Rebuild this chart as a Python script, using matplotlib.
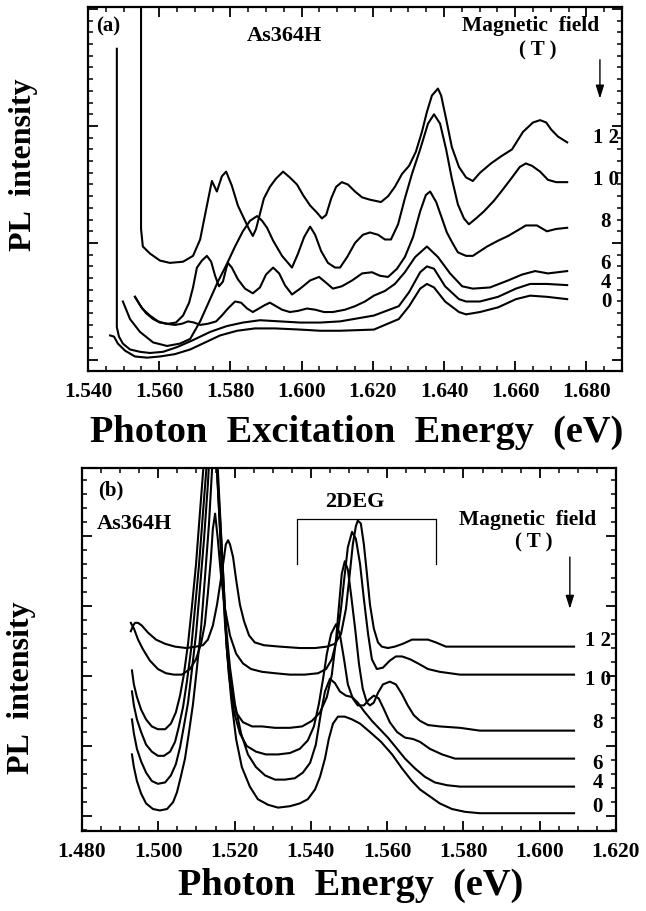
## 0.1
import numpy as np
import matplotlib
matplotlib.use('Agg')
import matplotlib.pyplot as plt
from matplotlib.ticker import MultipleLocator

## 0.2 basic settings
plt.rcParams['font.family'] = ['Liberation Serif', 'DejaVu Serif']
plt.rcParams['font.weight'] = 'bold'
lw_curve, lw_axis = 1.5, 1.6
fields = ['1 2', '1 0', '8', '6', '4', '0']

## 0.3 panel (a) data : photon excitation energy (eV) / PL intensity (arb.)
a_e12 = [1.5549, 1.5549, 1.5554, 1.5574, 1.5602, 1.5630, 1.5667, 1.5695, 1.5715, 1.5734, 1.5748, 1.5762, 1.5776, 1.5788, 1.5804, 1.5821, 1.5838, 1.5852, 1.5863, 1.5872, 1.5883, 1.5894, 1.5911, 1.5928, 1.5948, 1.5967, 1.5987, 1.6004, 1.6024, 1.6043, 1.6057, 1.6069, 1.6083, 1.6097, 1.6113, 1.6130, 1.6150, 1.6170, 1.6192, 1.6223, 1.6243, 1.6262, 1.6282, 1.6302, 1.6321, 1.6338, 1.6352, 1.6366, 1.6383, 1.6392, 1.6406, 1.6422, 1.6442, 1.6462, 1.6481, 1.6501, 1.6532, 1.6560, 1.6591, 1.6622, 1.6650, 1.6670, 1.6687, 1.6701, 1.6720, 1.6746]
a_i12 = [31.0, 11.2, 9.7, 9.1, 8.5, 8.3, 8.4, 8.9, 10.3, 13.2, 15.3, 14.4, 15.7, 16.1, 14.9, 13.2, 12.1, 11.2, 10.6, 11.2, 12.5, 13.8, 14.8, 15.5, 16.1, 15.6, 15.0, 14.1, 13.2, 12.6, 12.1, 12.4, 13.8, 14.8, 15.2, 15.0, 14.4, 13.9, 13.7, 13.5, 14.0, 14.8, 15.9, 16.6, 17.8, 19.5, 21.2, 22.6, 23.2, 22.6, 20.6, 18.2, 16.5, 15.6, 15.3, 16.0, 16.8, 17.4, 18.0, 19.5, 20.3, 20.5, 20.3, 19.7, 19.1, 18.6]

a_e10 = [1.5498, 1.5518, 1.5546, 1.5583, 1.5622, 1.5658, 1.5687, 1.5715, 1.5743, 1.5765, 1.5790, 1.5813, 1.5835, 1.5855, 1.5875, 1.5889, 1.5903, 1.5920, 1.5945, 1.5973, 1.5990, 1.6007, 1.6024, 1.6038, 1.6055, 1.6074, 1.6094, 1.6108, 1.6128, 1.6150, 1.6172, 1.6192, 1.6215, 1.6234, 1.6251, 1.6271, 1.6290, 1.6310, 1.6333, 1.6355, 1.6372, 1.6389, 1.6406, 1.6422, 1.6439, 1.6456, 1.6470, 1.6490, 1.6512, 1.6540, 1.6566, 1.6591, 1.6613, 1.6630, 1.6647, 1.6670, 1.6692, 1.6715, 1.6746]
a_i10 = [5.0, 3.5, 2.4, 1.5, 1.2, 1.4, 1.8, 3.3, 5.2, 6.7, 8.2, 9.7, 11.0, 11.9, 12.3, 11.9, 11.3, 10.2, 8.9, 7.9, 9.1, 10.5, 11.4, 10.7, 9.3, 8.3, 7.9, 7.9, 8.8, 10.0, 10.7, 10.9, 10.7, 10.3, 10.3, 11.6, 13.8, 15.9, 18.0, 20.2, 21.0, 20.2, 18.0, 15.5, 13.3, 12.1, 11.6, 12.1, 12.7, 13.6, 14.6, 15.6, 16.5, 16.8, 16.6, 16.1, 15.4, 15.2, 15.2]

a_e8 = [1.5532, 1.5546, 1.5563, 1.5583, 1.5602, 1.5625, 1.5647, 1.5667, 1.5684, 1.5695, 1.5706, 1.5720, 1.5734, 1.5746, 1.5757, 1.5768, 1.5779, 1.5788, 1.5793, 1.5804, 1.5821, 1.5841, 1.5863, 1.5883, 1.5900, 1.5920, 1.5937, 1.5953, 1.5973, 1.5996, 1.6024, 1.6049, 1.6069, 1.6088, 1.6113, 1.6142, 1.6170, 1.6198, 1.6220, 1.6243, 1.6268, 1.6290, 1.6313, 1.6333, 1.6349, 1.6361, 1.6378, 1.6392, 1.6408, 1.6422, 1.6439, 1.6462, 1.6481, 1.6501, 1.6521, 1.6552, 1.6580, 1.6608, 1.6630, 1.6661, 1.6689, 1.6715, 1.6746]
a_i8 = [5.4, 4.7, 4.0, 3.5, 3.2, 3.1, 3.2, 3.8, 4.9, 6.2, 7.9, 8.5, 8.9, 8.4, 7.2, 6.3, 6.7, 7.8, 8.3, 7.9, 6.9, 6.1, 5.7, 6.2, 7.3, 7.9, 7.4, 6.4, 5.6, 6.1, 6.8, 7.1, 6.6, 6.1, 6.3, 6.8, 7.4, 7.5, 7.2, 7.1, 7.8, 8.8, 10.5, 12.7, 14.1, 14.4, 13.5, 12.3, 10.9, 10.1, 9.2, 8.9, 8.9, 9.3, 9.7, 10.2, 10.6, 11.1, 11.5, 11.5, 11.0, 11.2, 11.3]

a_e6 = [1.5532, 1.5552, 1.5574, 1.5597, 1.5619, 1.5644, 1.5664, 1.5681, 1.5698, 1.5715, 1.5737, 1.5760, 1.5776, 1.5793, 1.5813, 1.5830, 1.5847, 1.5863, 1.5880, 1.5897, 1.5911, 1.5928, 1.5945, 1.5967, 1.5990, 1.6015, 1.6038, 1.6063, 1.6088, 1.6122, 1.6150, 1.6178, 1.6203, 1.6234, 1.6262, 1.6290, 1.6319, 1.6352, 1.6383, 1.6417, 1.6451, 1.6481, 1.6529, 1.6580, 1.6619, 1.6656, 1.6692, 1.6746]
a_i6 = [5.4, 4.4, 3.8, 3.3, 3.1, 3.0, 3.1, 3.3, 3.2, 3.0, 3.1, 3.3, 3.8, 4.4, 5.0, 4.9, 4.4, 4.1, 4.4, 4.7, 4.9, 4.6, 4.3, 4.1, 4.2, 4.4, 4.3, 4.1, 4.1, 4.3, 4.6, 5.0, 5.5, 5.9, 6.5, 7.5, 8.8, 9.7, 8.8, 7.4, 6.3, 6.1, 6.2, 6.8, 7.3, 7.6, 7.4, 7.6]

a_e4 = [1.5481, 1.5481, 1.5487, 1.5498, 1.5518, 1.5546, 1.5574, 1.5611, 1.5650, 1.5695, 1.5743, 1.5790, 1.5835, 1.5883, 1.5939, 1.5996, 1.6052, 1.6108, 1.6203, 1.6273, 1.6302, 1.6333, 1.6352, 1.6372, 1.6403, 1.6442, 1.6462, 1.6501, 1.6552, 1.6602, 1.6642, 1.6689, 1.6746]
a_i4 = [26.6, 2.8, 2.0, 1.4, 0.9, 0.7, 0.6, 0.7, 1.1, 1.7, 2.4, 2.9, 3.2, 3.4, 3.3, 3.2, 3.2, 3.3, 3.8, 4.6, 5.8, 7.5, 8.0, 7.8, 6.3, 5.2, 5.0, 5.0, 5.4, 6.1, 6.5, 6.5, 6.4]

a_e0 = [1.5462, 1.5473, 1.5484, 1.5504, 1.5532, 1.5566, 1.5602, 1.5644, 1.5687, 1.5729, 1.5771, 1.5819, 1.5869, 1.5925, 1.5996, 1.6052, 1.6108, 1.6203, 1.6273, 1.6302, 1.6333, 1.6352, 1.6372, 1.6403, 1.6442, 1.6462, 1.6501, 1.6552, 1.6602, 1.6642, 1.6689, 1.6746]
a_i0 = [2.1, 2.0, 1.4, 0.8, 0.3, 0.2, 0.3, 0.5, 0.9, 1.5, 2.1, 2.5, 2.7, 2.7, 2.6, 2.5, 2.5, 2.6, 3.5, 4.6, 6.1, 6.5, 6.2, 5.0, 4.1, 3.9, 4.1, 4.5, 5.2, 5.5, 5.4, 5.2]

## 0.4 panel (b) data : photon energy (eV) / PL intensity (arb.)
b_e12 = [1.4928, 1.4934, 1.4939, 1.4947, 1.4957, 1.4973, 1.4994, 1.5018, 1.5044, 1.5073, 1.5099, 1.5117, 1.5130, 1.5143, 1.5154, 1.5164, 1.5172, 1.5177, 1.5183, 1.5188, 1.5196, 1.5204, 1.5214, 1.5225, 1.5238, 1.5253, 1.5277, 1.5319, 1.5371, 1.5411, 1.5442, 1.5463, 1.5479, 1.5492, 1.5502, 1.5510, 1.5518, 1.5523, 1.5531, 1.5539, 1.5547, 1.5555, 1.5565, 1.5576, 1.5586, 1.5602, 1.5620, 1.5641, 1.5665, 1.5686, 1.5707, 1.5728, 1.5754, 1.5791, 1.6090]
b_i12 = [13.2, 13.6, 13.8, 13.8, 13.6, 13.1, 12.6, 12.3, 12.1, 12.0, 12.1, 12.2, 12.6, 13.6, 15.1, 16.9, 18.4, 19.4, 19.7, 19.4, 18.5, 16.9, 15.1, 13.9, 12.9, 12.4, 12.2, 12.1, 12.0, 12.0, 12.1, 12.3, 13.0, 14.8, 17.3, 19.4, 20.7, 21.1, 20.9, 19.4, 17.3, 15.1, 13.4, 12.4, 12.1, 12.0, 12.1, 12.3, 12.6, 12.6, 12.6, 12.4, 12.1, 12.1, 12.1]

b_e10 = [1.4928, 1.4936, 1.4947, 1.4960, 1.4978, 1.4999, 1.5020, 1.5041, 1.5062, 1.5083, 1.5099, 1.5112, 1.5122, 1.5130, 1.5138, 1.5143, 1.5149, 1.5156, 1.5164, 1.5175, 1.5188, 1.5204, 1.5222, 1.5243, 1.5272, 1.5306, 1.5345, 1.5384, 1.5419, 1.5440, 1.5455, 1.5468, 1.5479, 1.5489, 1.5497, 1.5508, 1.5518, 1.5529, 1.5539, 1.5550, 1.5560, 1.5573, 1.5589, 1.5607, 1.5623, 1.5639, 1.5660, 1.5681, 1.5707, 1.5738, 1.5791, 1.6090]
b_i10 = [13.8, 13.4, 12.6, 11.9, 11.1, 10.5, 10.2, 10.1, 10.1, 10.5, 11.2, 12.3, 13.7, 15.9, 18.4, 20.5, 21.6, 19.8, 17.3, 14.8, 12.9, 11.6, 10.9, 10.5, 10.3, 10.2, 10.1, 10.1, 10.2, 10.5, 11.2, 12.6, 14.8, 17.3, 19.2, 20.3, 19.8, 18.0, 15.5, 13.0, 11.2, 10.5, 10.6, 11.1, 11.4, 11.4, 11.2, 10.9, 10.5, 10.3, 10.1, 10.1]

b_e8 = [1.4931, 1.4936, 1.4944, 1.4955, 1.4968, 1.4983, 1.4999, 1.5018, 1.5033, 1.5046, 1.5057, 1.5067, 1.5078, 1.5088, 1.5099, 1.5109, 1.5120, 1.5138, 1.5149, 1.5156, 1.5164, 1.5172, 1.5180, 1.5191, 1.5204, 1.5222, 1.5246, 1.5272, 1.5306, 1.5345, 1.5377, 1.5403, 1.5424, 1.5442, 1.5455, 1.5466, 1.5474, 1.5481, 1.5489, 1.5497, 1.5505, 1.5516, 1.5526, 1.5536, 1.5547, 1.5555, 1.5565, 1.5576, 1.5589, 1.5607, 1.5623, 1.5639, 1.5654, 1.5670, 1.5686, 1.5707, 1.5738, 1.5791, 1.5843, 1.6090]
b_i8 = [10.4, 9.4, 8.5, 7.6, 6.9, 6.4, 6.2, 6.2, 6.6, 7.4, 8.6, 10.1, 12.3, 14.9, 18.0, 21.6, 25.5, 30.0, 27.6, 23.7, 19.4, 15.5, 11.9, 9.1, 7.4, 6.7, 6.4, 6.4, 6.3, 6.3, 6.4, 6.8, 7.4, 8.5, 10.1, 12.6, 15.1, 17.3, 18.2, 17.6, 15.9, 13.4, 10.9, 9.1, 8.1, 7.9, 8.1, 8.8, 9.4, 9.6, 9.4, 8.7, 7.9, 7.2, 6.8, 6.5, 6.4, 6.3, 6.1, 6.1]

b_e6 = [1.4931, 1.4936, 1.4944, 1.4955, 1.4968, 1.4983, 1.4999, 1.5015, 1.5031, 1.5044, 1.5054, 1.5065, 1.5075, 1.5086, 1.5096, 1.5107, 1.5117, 1.5128, 1.5141, 1.5151, 1.5159, 1.5167, 1.5175, 1.5185, 1.5198, 1.5214, 1.5232, 1.5256, 1.5282, 1.5314, 1.5345, 1.5371, 1.5392, 1.5408, 1.5421, 1.5432, 1.5442, 1.5453, 1.5466, 1.5476, 1.5487, 1.5497, 1.5510, 1.5523, 1.5539, 1.5552, 1.5565, 1.5578, 1.5592, 1.5607, 1.5626, 1.5647, 1.5668, 1.5686, 1.5712, 1.5744, 1.5778, 1.5817, 1.6090]
b_i6 = [8.9, 7.9, 6.9, 6.0, 5.1, 4.6, 4.3, 4.3, 4.6, 5.3, 6.4, 7.8, 9.6, 11.9, 14.8, 18.0, 21.6, 25.5, 30.0, 26.2, 21.9, 17.6, 13.7, 10.1, 7.5, 5.9, 5.0, 4.6, 4.4, 4.4, 4.5, 4.8, 5.4, 6.4, 8.0, 9.8, 11.6, 13.0, 13.7, 13.0, 11.2, 9.4, 8.4, 7.9, 7.9, 8.3, 8.6, 8.4, 7.6, 6.7, 6.0, 5.6, 5.5, 5.3, 4.8, 4.4, 4.1, 4.1, 4.1]

b_e4 = [1.4931, 1.4936, 1.4944, 1.4955, 1.4968, 1.4983, 1.4999, 1.5018, 1.5033, 1.5046, 1.5057, 1.5067, 1.5078, 1.5088, 1.5099, 1.5109, 1.5120, 1.5130, 1.5143, 1.5154, 1.5162, 1.5170, 1.5177, 1.5188, 1.5201, 1.5217, 1.5235, 1.5256, 1.5280, 1.5306, 1.5332, 1.5358, 1.5379, 1.5398, 1.5413, 1.5426, 1.5437, 1.5450, 1.5463, 1.5476, 1.5492, 1.5508, 1.5523, 1.5539, 1.5560, 1.5581, 1.5602, 1.5623, 1.5647, 1.5673, 1.5699, 1.5725, 1.5757, 1.5791, 1.6090]
b_i4 = [6.9, 5.9, 4.8, 3.9, 3.1, 2.5, 2.3, 2.4, 2.9, 3.7, 4.9, 6.4, 8.1, 10.4, 13.0, 16.2, 19.8, 23.7, 30.0, 24.8, 21.2, 17.3, 13.7, 10.6, 8.0, 5.9, 4.4, 3.5, 2.9, 2.6, 2.6, 2.7, 3.1, 3.8, 5.1, 7.3, 8.9, 9.8, 9.5, 8.9, 8.6, 8.5, 8.1, 7.5, 6.8, 6.2, 5.6, 4.9, 4.1, 3.4, 2.8, 2.4, 2.2, 2.1, 2.1]

b_e0 = [1.4931, 1.4936, 1.4944, 1.4955, 1.4968, 1.4986, 1.5004, 1.5023, 1.5039, 1.5049, 1.5059, 1.5070, 1.5080, 1.5091, 1.5101, 1.5112, 1.5122, 1.5133, 1.5141, 1.5149, 1.5156, 1.5164, 1.5172, 1.5180, 1.5191, 1.5204, 1.5219, 1.5240, 1.5261, 1.5288, 1.5314, 1.5345, 1.5371, 1.5392, 1.5411, 1.5424, 1.5437, 1.5447, 1.5458, 1.5471, 1.5489, 1.5508, 1.5529, 1.5555, 1.5584, 1.5613, 1.5639, 1.5665, 1.5686, 1.5712, 1.5738, 1.5770, 1.5804, 1.5843, 1.6090]
b_i0 = [4.4, 3.5, 2.5, 1.6, 0.9, 0.5, 0.4, 0.5, 1.0, 1.7, 2.8, 4.1, 5.9, 8.0, 10.5, 13.4, 16.9, 20.9, 24.8, 30.0, 24.8, 20.5, 16.2, 11.9, 8.4, 5.5, 3.5, 2.1, 1.2, 0.8, 0.6, 0.7, 0.9, 1.2, 1.9, 2.8, 4.1, 5.5, 6.6, 7.1, 7.1, 6.9, 6.6, 6.0, 5.3, 4.4, 3.4, 2.5, 1.9, 1.4, 0.9, 0.5, 0.3, 0.2, 0.2]

## 0.5 label positions (eV, intensity) for the field values
a_lab_e, a_lab_i = 1.6855, [19.1, 15.5, 11.9, 8.3, 6.7, 5.0]
b_lab_e, b_lab_i = 1.6152, [12.6, 9.8, 6.7, 3.8, 2.4, 0.7]

## 1. figure and axes
fig = plt.figure(figsize=(6.46, 9.12), dpi=100)
W, H = 646, 912
ax1 = fig.add_axes([88/W, 1-372/H, 534/W, 364/H])
ax2 = fig.add_axes([82/W, 1-832/H, 534/W, 363/H])

## 2. curves
for e, i in [(a_e12, a_i12), (a_e10, a_i10), (a_e8, a_i8), (a_e6, a_i6), (a_e4, a_i4), (a_e0, a_i0)]:
    ax1.plot(e, i, color='k', lw=lw_curve, solid_joinstyle='round')
for e, i in [(b_e12, b_i12), (b_e10, b_i10), (b_e8, b_i8), (b_e6, b_i6), (b_e4, b_i4), (b_e0, b_i0)]:
    ax2.plot(e, i, color='k', lw=lw_curve, solid_joinstyle='round')

## 3. axes style
ax1.set_xlim(1.540, 1.690); ax1.set_ylim(-0.94, 30.17)
ax2.set_xlim(1.480, 1.620); ax2.set_ylim(-1.07, 24.86)
for ax, ymaj in [(ax1, 10), (ax2, 5)]:
    ax.xaxis.set_major_locator(MultipleLocator(0.02))
    ax.xaxis.set_minor_locator(MultipleLocator(0.005))
    ax.yaxis.set_major_locator(MultipleLocator(ymaj))
    ax.yaxis.set_minor_locator(MultipleLocator(1))
    ax.xaxis.set_major_formatter(plt.FormatStrFormatter('%.3f'))
    ax.tick_params(which='both', direction='in', top=True, right=True, labelleft=False)
    ax.tick_params(which='major', length=7, width=1.3, labelsize=15.5, pad=7)
    ax.tick_params(which='minor', length=3.5, width=1.1)
    for s in ax.spines.values():
        s.set_linewidth(lw_axis)
    for t in ax.get_xticklabels():
        t.set_fontweight('bold')

## 4. axis labels
fig.text(357/W, 1-432/H, 'Photon  Excitation  Energy  (eV)', ha='center', va='center', fontsize=27.6, fontweight='bold')
fig.text(351/W, 1-885/H, 'Photon  Energy  (eV)', ha='center', va='center', fontsize=27.6, fontweight='bold')
fig.text(24/W, 1-165/H, 'PL  intensity', ha='center', va='center', rotation=90, fontsize=23, fontweight='bold')
fig.text(22/W, 1-688/H, 'PL  intensity', ha='center', va='center', rotation=90, fontsize=23, fontweight='bold')

## 5. annotations
kw = dict(ha='center', va='center', fontweight='bold')
fig.text(108/W, 1-26/H, '(a)', fontsize=15, **kw)
fig.text(284/W, 1-36/H, 'As364H', fontsize=16, **kw)
fig.text(531/W, 1-26/H, 'Magnetic  field', fontsize=15.5, **kw)
fig.text(538/W, 1-50/H, '( T )', fontsize=15, **kw)
ax1.annotate('', xy=(1.6838, 22.1), xytext=(1.6838, 25.9),
             arrowprops=dict(arrowstyle='-|>,head_length=0.8,head_width=0.25', lw=1.0, color='k'))
for lab, y in zip(fields, a_lab_i):
    ax1.text(a_lab_e, y, lab, fontsize=15, **kw)

fig.text(111/W, 1-490/H, '(b)', fontsize=15, **kw)
fig.text(134/W, 1-524/H, 'As364H', fontsize=16, **kw)
fig.text(355/W, 1-502/H, '2DEG', fontsize=16, **kw)
fig.text(528/W, 1-520/H, 'Magnetic  field', fontsize=15.5, **kw)
fig.text(534/W, 1-542/H, '( T )', fontsize=15, **kw)
ax2.plot([1.5364, 1.5364, 1.5728, 1.5728], [18.0, 21.2, 21.2, 18.0], color='k', lw=0.9)
ax2.annotate('', xy=(1.6079, 14.6), xytext=(1.6079, 18.7),
             arrowprops=dict(arrowstyle='-|>,head_length=0.8,head_width=0.25', lw=1.0, color='k'))
for lab, y in zip(fields, b_lab_i):
    ax2.text(b_lab_e, y, lab, fontsize=15, **kw)

## 6. save
fig.savefig('out.png', dpi=100)
plt.close(fig)
